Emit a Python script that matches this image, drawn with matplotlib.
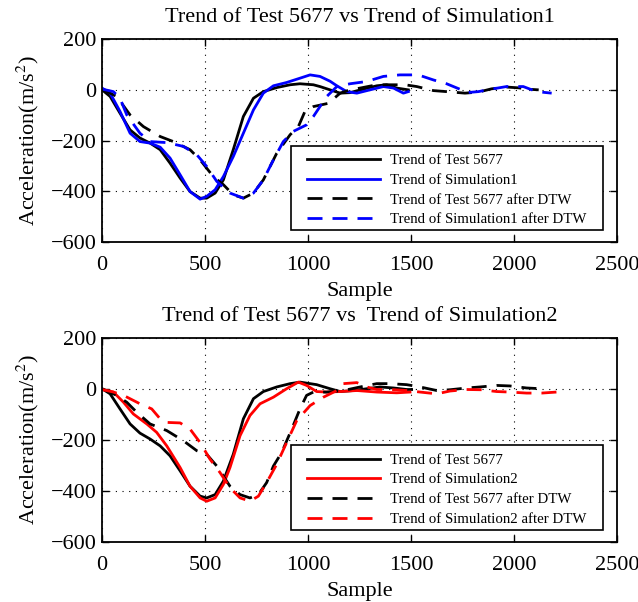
import matplotlib
matplotlib.use("Agg")
import matplotlib.pyplot as plt
from matplotlib.patches import Rectangle

plt.rcParams['font.family'] = ['Liberation Serif', 'DejaVu Serif']
plt.rcParams['mathtext.fontset'] = 'stix'

# ---- Data ----
# Top panel
test_a_x = [0, 39, 87, 136, 184, 233, 282, 330, 379, 427, 476, 508, 549, 589, 637, 686, 735, 783, 848, 913, 961, 1026, 1058,
            1107, 1156, 1204, 1269, 1334, 1382, 1431, 1487]
test_a_y = [0, -26, -92, -158, -190, -210, -236, -289, -348, -401, -427, -427, -407, -355, -236, -105, -33, -7, 9, 20, 24, 20, 13,
            0, -13, -11, 3, 16, 20, 7, 0]

sim1_x = [0, 39, 87, 136, 184, 233, 282, 330, 379, 427, 476, 508, 549, 589, 637, 686, 735, 783, 832, 896, 961, 1010, 1058,
          1107, 1140, 1188, 1237, 1301, 1366, 1415, 1463, 1487]
sim1_y = [7, -13, -85, -171, -204, -210, -226, -269, -335, -401, -431, -420, -394, -342, -263, -171, -79, -13, 16, 29, 46, 59, 53,
          34, 16, -7, -13, 0, 13, 7, -13, -7]

test1_dtw_x = [0, 71, 136, 201, 282, 346, 427, 476, 540, 589, 637, 686, 735, 783, 848, 913, 953, 985, 1026, 1099,
               1156, 1204, 1253, 1334, 1399, 1471, 1528, 1609, 1673, 1762, 1827, 1891, 1964, 2020, 2080, 2120]
test1_dtw_y = [3, -26, -99, -145, -184, -204, -236, -276, -342, -374, -414, -427, -407, -355, -250, -177, -145, -85, -66, -53,
               -13, 0, 7, 20, 20, 20, 13, -3, -7, -13, -9, 4, 11, 8, 2, 0]

sim1_dtw_x = [0, 55, 87, 120, 184, 233, 314, 395, 460, 508, 557, 621, 686, 735, 783, 832, 880, 928, 993, 1026, 1058,
              1091, 1140, 1204, 1285, 1366, 1446, 1535, 1609, 1673, 1745, 1770, 1827, 1891, 1964, 2045, 2110, 2183]
sim1_dtw_y = [3, -7, -33, -99, -171, -204, -208, -223, -256, -302, -361, -407, -427, -407, -355, -276, -204, -164, -138, -105, -66,
              -26, 13, 24, 33, 53, 59, 59, 39, 24, 0, -11, -7, 3, 13, 13, -7, -13]

# Bottom panel
test_b_x = [0, 39, 87, 136, 184, 233, 282, 330, 379, 427, 476, 508, 549, 589, 637, 686, 735, 783, 848, 913, 961, 1042,
            1107, 1156, 1221, 1285, 1350, 1415, 1479, 1503]
test_b_y = [0, -20, -79, -138, -174, -197, -224, -263, -322, -382, -421, -428, -415, -362, -257, -118, -39, -11, 7, 20, 26, 16,
            0, -11, -7, 0, 7, 3, -3, -3]

sim2_x = [0, 55, 104, 152, 217, 265, 314, 379, 427, 476, 508, 549, 589, 621, 670, 718, 767, 832, 896, 953, 993, 1042,
          1091, 1156, 1237, 1334, 1431, 1495]
sim2_y = [-3, -13, -53, -99, -138, -171, -224, -309, -382, -428, -441, -428, -375, -309, -184, -105, -59, -33, 0, 26, 13, -11,
          -13, -11, -7, -13, -16, -13]

test2_dtw_x = [0, 71, 120, 168, 233, 314, 395, 460, 508, 557, 621, 670, 718, 759, 799, 832, 872, 921, 961, 993, 1026,
               1091, 1172, 1253, 1334, 1399, 1479, 1544, 1625, 1689, 1770, 1835, 1916, 1980, 2061, 2134]
test2_dtw_y = [0, -26, -53, -92, -138, -164, -204, -243, -257, -303, -382, -415, -428, -415, -368, -303, -250, -158, -79, -26, -13,
               -13, -7, 7, 20, 20, 16, 7, -7, -4, 3, 7, 13, 11, 3, 0]

sim2_dtw_x = [0, 55, 104, 184, 241, 282, 314, 379, 427, 476, 524, 573, 621, 670, 718, 759, 799, 848, 896, 945, 1010, 1075,
              1140, 1172, 1237, 1285, 1334, 1399, 1479, 1544, 1625, 1689, 1770, 1843, 1916, 1980, 2061, 2134, 2207]
sim2_dtw_y = [-3, -13, -26, -59, -79, -118, -132, -134, -158, -211, -276, -329, -388, -428, -441, -421, -368, -296, -211, -125, -66, -33,
              -7, 20, 24, 7, -3, -3, -7, -13, -20, -9, -3, -4, -11, -13, -17, -17, -13]

titles = ["Trend of Test 5677 vs Trend of Simulation1",
          "Trend of Test 5677 vs  Trend of Simulation2"]
labels1 = ["Trend of Test 5677", "Trend of Simulation1",
           "Trend of Test 5677 after DTW", "Trend of Simulation1 after DTW"]
labels2 = ["Trend of Test 5677", "Trend of Simulation2",
           "Trend of Test 5677 after DTW", "Trend of Simulation2 after DTW"]
xticks = [0, 500, 1000, 1500, 2000, 2500]
yticks = [-600, -400, -200, 0, 200]

fig = plt.figure(figsize=(6.38, 6.02), dpi=100)
ax1 = fig.add_axes([0.160, 0.598, 0.807, 0.337])
ax2 = fig.add_axes([0.160, 0.100, 0.807, 0.339])

lw = 2.0
dash = (5.4, 3.6)

def style(ax, title):
    ax.set_xlim(0, 2500)
    ax.set_ylim(-600, 200)
    ax.set_xticks(xticks)
    ax.set_yticks(yticks)
    ax.tick_params(direction='in', top=True, right=True, length=5, width=1,
                   labelsize=16)
    ax.tick_params(axis='x', pad=10)
    ax.tick_params(axis='y', pad=4)
    ax.grid(True, color='black', linestyle=(0, (1, 5)), linewidth=0.8)
    for s in ax.spines.values():
        s.set_linewidth(1.3)
    ax.set_title(title, fontsize=16, pad=12)
    ax.set_xlabel("Sample", fontsize=16, labelpad=5)
    ax.set_ylabel("Acceleration(m/s$^{2}$)", fontsize=16, labelpad=7)

# legend frame box (axes fraction): left, bottom, width, height
box = (0.367, 0.059, 0.606, 0.414)

def legend(ax):
    ax.add_patch(Rectangle((box[0], box[1]), box[2], box[3], transform=ax.transAxes,
                           facecolor='white', edgecolor='black', linewidth=1.2,
                           zorder=4.5))
    ax.legend(loc='center', bbox_to_anchor=(box[0] + box[2] / 2, box[1] + box[3] / 2 - 0.01),
              fontsize=10.7, frameon=False,
              handlelength=4.9, handletextpad=0.67, labelspacing=0.42,
              borderpad=0.0, borderaxespad=0)

ax1.plot(test_a_x, test_a_y, color='black', lw=lw, label=labels1[0])
ax1.plot(sim1_x, sim1_y, color='#0000ff', lw=lw, label=labels1[1])
ax1.plot(test1_dtw_x, test1_dtw_y, color='black', lw=lw, dashes=dash, label=labels1[2])
ax1.plot(sim1_dtw_x, sim1_dtw_y, color='#0000ff', lw=lw, dashes=dash, label=labels1[3])
style(ax1, titles[0])
legend(ax1)

ax2.plot(test_b_x, test_b_y, color='black', lw=lw, label=labels2[0])
ax2.plot(sim2_x, sim2_y, color='#ff0000', lw=lw, label=labels2[1])
ax2.plot(test2_dtw_x, test2_dtw_y, color='black', lw=lw, dashes=dash, label=labels2[2])
ax2.plot(sim2_dtw_x, sim2_dtw_y, color='#ff0000', lw=lw, dashes=dash, label=labels2[3])
style(ax2, titles[1])
legend(ax2)

fig.savefig("out.png", dpi=100)
